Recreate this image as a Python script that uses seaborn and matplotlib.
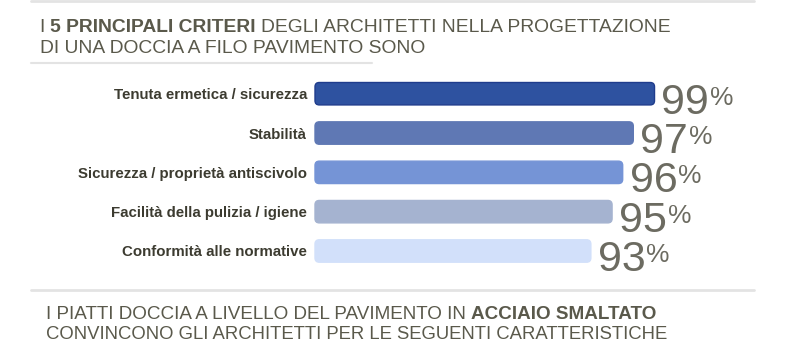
import matplotlib
matplotlib.use("Agg")
import matplotlib.pyplot as plt
import seaborn as sns
import pandas as pd
from matplotlib.patches import FancyBboxPatch
from matplotlib.lines import Line2D

# ---- data ----
categories = [
    "Tenuta ermetica / sicurezza",
    "Stabilità",
    "Sicurezza / proprietà antiscivolo",
    "Facilità della pulizia / igiene",
    "Conformità alle normative",
]
values = [99, 97, 96, 95, 93]
value_labels = ["99", "97", "96", "95", "93"]
percent_sign = "%"
bar_colors = ["#2E52A0", "#5F78B4", "#7594D6", "#A5B3D0", "#D2E0FA"]

title_line1 = [("I", "normal"), ("5 PRINCIPALI CRITERI", "bold"),
               ("DEGLI ARCHITETTI NELLA PROGETTAZIONE", "normal")]
title_line2 = [("DI UNA DOCCIA A FILO PAVIMENTO SONO", "normal")]
foot_line1 = [("I PIATTI DOCCIA A LIVELLO DEL PAVIMENTO IN", "normal"),
              ("ACCIAIO SMALTATO", "bold")]
foot_line2 = [("CONVINCONO GLI ARCHITETTI PER LE SEGUENTI CARATTERISTICHE", "normal")]

df = pd.DataFrame({"criterio": categories, "valore": values})

sns.set_theme(style="white")
plt.rcParams["font.family"] = ["Liberation Sans", "DejaVu Sans"]

W, H = 800, 349
fig = plt.figure(figsize=(W / 100, H / 100), dpi=100)
fig.patch.set_facecolor("white")

ax_left, ax_top, ax_bottom = 315, 70, 275
ax = fig.add_axes([ax_left / W, 1 - ax_bottom / H, (W - ax_left) / W, (ax_bottom - ax_top) / H])

sns.barplot(data=df, x="valore", y="criterio", hue="criterio", palette=bar_colors,
            legend=False, orient="h", width=0.57, ax=ax, saturation=1)

px_per_unit = 10.61
x0 = 67.0
ax.set_xlim(x0, x0 + (W - ax_left) / px_per_unit)
unit_px_y = 39.3
ax.set_ylim(4 + (ax_bottom - 251) / unit_px_y, -(93.7 - ax_top) / unit_px_y)

aspect = (1 / unit_px_y) / (1 / px_per_unit)
edge_cols = ["#1F3C8C", None, None, None, None]
for i, p in enumerate(list(ax.patches)):
    y = p.get_y()
    h = p.get_height()
    w = p.get_width()
    fc = p.get_facecolor()
    p.set_visible(False)
    ec = edge_cols[i] if i < len(edge_cols) and edge_cols[i] else fc
    fb = FancyBboxPatch((x0, y), w - x0, h,
                        boxstyle="round,pad=0,rounding_size=0.4",
                        mutation_aspect=aspect, facecolor=fc, edgecolor=ec,
                        linewidth=1.0, clip_on=False)
    ax.add_patch(fb)

renderer = fig.canvas.get_renderer()
num_color = "#6C6B61"
for i, (v, lab) in enumerate(zip(values, value_labels)):
    a = ax.annotate(lab, xy=(v, i), xytext=(5, -14.5), textcoords="offset points",
                    ha="left", va="baseline", fontsize=31, color=num_color,
                    annotation_clip=False)
    wpx = a.get_window_extent(renderer).width
    ax.annotate(percent_sign, xy=(v, i), xytext=(5 + wpx * 0.72 + 0.5, -8),
                textcoords="offset points", ha="left", va="baseline",
                fontsize=19, color=num_color, annotation_clip=False)

ax.set_xlabel("")
ax.set_ylabel("")
ax.set_xticks([])
ax.tick_params(axis="y", length=0, pad=5.8)
for t in ax.get_yticklabels():
    t.set_fontweight("bold")
    t.set_fontsize(10.8)
    t.set_color("#3C3B30")
for s in ax.spines.values():
    s.set_visible(False)
ax.set_facecolor("none")

# ---- text blocks ----
text_color = "#5A594B"


def rich_line(x_px, base_px, segments, fs):
    x = x_px
    space_px = 0.278 * fs * 100 / 72
    for txt, wt in segments:
        t = fig.text(x / W, 1 - base_px / H, txt, fontsize=fs, fontweight=wt,
                     color=text_color, ha="left", va="baseline")
        bb = t.get_window_extent(renderer)
        x += bb.width + space_px


rich_line(39.5, 32.3, title_line1, 13.9)
rich_line(39.5, 53.3, title_line2, 13.9)
rich_line(45.5, 319.3, foot_line1, 13.6)
rich_line(45.5, 339.3, foot_line2, 13.3)

# separator lines
for (xa, xb, yy, lw) in [(31, 754, 1.0, 2.0), (31, 372, 62.5, 1.5), (31, 754, 290, 2.0)]:
    fig.add_artist(Line2D([xa / W, xb / W], [1 - yy / H, 1 - yy / H],
                          color="#E3E3E3", linewidth=lw, transform=fig.transFigure))

fig.savefig("out.png", dpi=100, facecolor="white")
